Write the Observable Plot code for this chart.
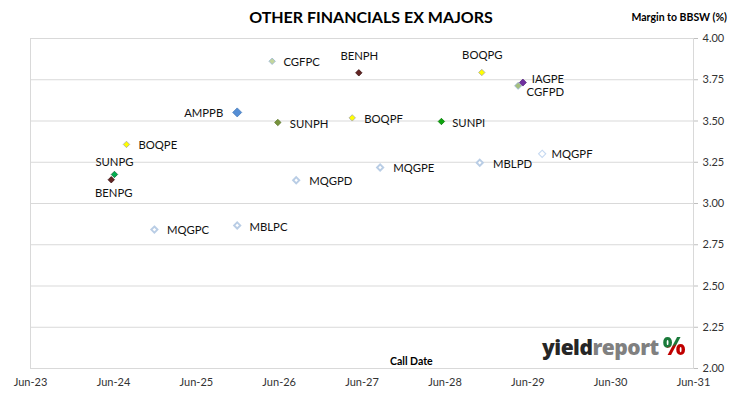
<!DOCTYPE html>
<html>
<head>
<meta charset="utf-8">
<script src="https://cdn.jsdelivr.net/npm/d3@7"></script>
<script src="https://cdn.jsdelivr.net/npm/@observablehq/plot@0.6"></script>
<style>
  html, body { margin: 0; padding: 0; background: #fff; }
  #wrap { position: relative; width: 730px; height: 399px; font-family: Lato, "Open Sans", sans-serif; overflow: hidden; }
  #wrap svg { position: absolute; left: 0; top: 0; }
  .ov { position: absolute; white-space: nowrap; color: #000; }
  #title { left: 0; width: 742px; top: 7px; text-align: center; font-weight: 700; font-size: 16px; }
  #ylab { right: 3px; top: 11px; font-weight: 700; font-size: 10.5px; }
  #xlab { left: 390px; top: 355px; font-weight: 700; font-size: 10.5px; }
  #logo { left: 542px; top: 332px; font-family: "Open Sans", sans-serif; font-weight: 800; font-size: 21px; letter-spacing: -0.5px; line-height: 28px; }
  #logo .a { color: #262626; }
  #logo .b { color: #808080; }
  #logo .p { font-size: 24px; letter-spacing: 0; background: linear-gradient(160deg, #1a7a3a 0%, #1a7a3a 47%, #c00000 53%, #c00000 100%); -webkit-background-clip: text; background-clip: text; color: transparent; margin-left: 4px; }
</style>
</head>
<body>
<div id="wrap">
  <div class="ov" id="title">OTHER FINANCIALS EX MAJORS</div>
  <div class="ov" id="ylab">Margin to BBSW (%)</div>
  <div class="ov" id="xlab">Call Date</div>
  <div class="ov" id="logo"><span class="a">yield</span><span class="b">report</span><span class="p">%</span></div>
</div>
<script>
// ---- data ----
const codes = ["SUNPG","BENPG","BOQPE","MQGPC","AMPPB","MBLPC","CGFPC","SUNPH","MQGPD","BENPH","BOQPF","MQGPE","SUNPI","BOQPG","MBLPD","CGFPD","IAGPE","MQGPF"];
const callDates = ["2024-06-05","2024-05-22","2024-07-28","2024-11-28","2025-11-28","2025-11-28","2026-05-01","2026-05-26","2026-08-15","2027-05-18","2027-04-19","2027-08-20","2028-05-16","2028-11-10","2028-11-01","2029-04-19","2029-05-10","2029-08-03"];
const margins = [3.176, 3.144, 3.358, 2.842, 3.552, 2.867, 3.862, 3.491, 3.141, 3.792, 3.519, 3.218, 3.497, 3.794, 3.247, 3.713, 3.733, 3.301];
const xTickDates = ["2023-06-01","2024-06-01","2025-06-01","2026-06-01","2027-06-01","2028-06-01","2029-06-01","2030-06-01","2031-06-01"];
const yTickValues = [2.00, 2.25, 2.50, 2.75, 3.00, 3.25, 3.50, 3.75, 4.00];

// ---- styles ----
const filled = (fill, stroke, r = 3.2) => ({fill, stroke, r, sw: 0.8});
const hollow = {fill: "#ffffff", stroke: "#b9cde5", r: 3.1, sw: 1.9};
const markerStyle = {
  SUNPG: filled("#00b050", "#1d6b3a"),
  BENPG: filled("#632523", "#3d1515"),
  BOQPE: filled("#ffff00", "#a6a6a6"),
  BOQPF: filled("#ffff00", "#a6a6a6"),
  BOQPG: filled("#ffff00", "#a6a6a6"),
  CGFPC: filled("#c3d69b", "#95b3d7"),
  CGFPD: filled("#a6bf7e", "#95b3d7", 3.5),
  AMPPB: filled("#558ed5", "#4a7ebb", 4.5),
  SUNPH: filled("#77933c", "#5f7a2e"),
  BENPH: filled("#632523", "#3d1515"),
  SUNPI: filled("#0ea50e", "#087a08"),
  IAGPE: filled("#7030a0", "#5a2680", 3.5),
  MQGPC: hollow, MBLPC: hollow, MQGPD: hollow, MQGPE: hollow, MBLPD: hollow,
  MQGPF: {fill: "#ffffff", stroke: "#c6d9f1", r: 3.6, sw: 1.1}
};
// label placement: [textAnchor, dx, dy]
const labelAt = {
  SUNPG: ["middle", 0, -12], BENPG: ["middle", 2.5, 14], BOQPE: ["start", 12, 0.5],
  MQGPC: ["start", 12.5, 1], AMPPB: ["end", -14, 1], MBLPC: ["start", 12.3, 1.5],
  CGFPC: ["start", 11.3, 1.3], SUNPH: ["start", 12, 2], MQGPD: ["start", 13, 1],
  BENPH: ["middle", 0.5, -16.5], BOQPF: ["start", 12, 2], MQGPE: ["start", 13, 1.3],
  SUNPI: ["start", 10.8, 2], BOQPG: ["middle", 0.5, -17], MBLPD: ["start", 13.3, 1.5],
  CGFPD: ["start", 8.5, 7], IAGPE: ["start", 9, -3.5], MQGPF: ["start", 9.4, 1]
};

const rows = codes.map((c, i) => ({code: c, date: new Date(callDates[i]), m: margins[i]}));
const diamond = {
  draw(ctx, size) {
    const h = Math.sqrt(size / Math.PI);
    ctx.moveTo(0, -h); ctx.lineTo(h, 0); ctx.lineTo(0, h); ctx.lineTo(-h, 0); ctx.closePath();
  }
};

const dotMarks = rows.map(d => {
  const s = markerStyle[d.code];
  return Plot.dot([d], {x: "date", y: "m", symbol: diamond, r: s.r, fill: s.fill, stroke: s.stroke, strokeWidth: s.sw});
});
const textMarks = rows.map(d => {
  const [a, dx, dy] = labelAt[d.code];
  return Plot.text([d], {x: "date", y: "m", text: "code", textAnchor: a, dx, dy, fill: "#111", fontSize: 11.3, fontFamily: "Lato"});
});

const chart = Plot.plot({
  width: 730,
  height: 399,
  marginLeft: 30,
  marginRight: 37,
  marginTop: 38,
  marginBottom: 31,
  style: {fontFamily: "Lato", fontSize: "11px", background: "transparent"},
  x: {type: "utc", domain: [new Date(xTickDates[0]), new Date(xTickDates[xTickDates.length - 1])]},
  y: {domain: [2, 4]},
  marks: [
    Plot.gridY(yTickValues, {stroke: "#d9d9d9", strokeOpacity: 1}),
    Plot.frame({stroke: "#d9d9d9"}),
    Plot.axisY({anchor: "right", ticks: yTickValues, tickSize: 4, tickPadding: 5, stroke: "#bfbfbf", fill: "#333", tickFormat: d => d.toFixed(2), label: null, fontSize: 11}),
    Plot.axisX({ticks: xTickDates.map(s => new Date(s)), tickSize: 0, tickPadding: 10, fill: "#333", tickFormat: d3.utcFormat("%b-%y"), label: null, fontSize: 11}),
    ...dotMarks,
    ...textMarks
  ]
});
document.getElementById("wrap").prepend(chart);
</script>
</body>
</html>
